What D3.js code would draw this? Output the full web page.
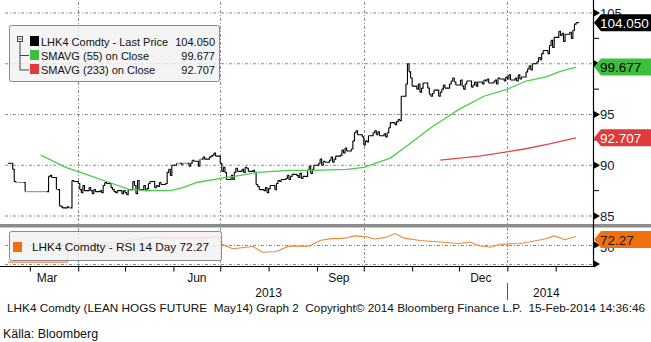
<!DOCTYPE html>
<html><head><meta charset="utf-8">
<script src="https://cdn.jsdelivr.net/npm/d3@7"></script>
<style>
body{margin:0;background:#fff}
svg{display:block}
text{font-family:"Liberation Sans",Arial,sans-serif;white-space:pre}
</style></head>
<body><svg id="c" width="651" height="342"></svg>
<script>
// ---------------- DATA ----------------
const startDate = "2013-02-15", endDate = "2014-02-14";
// daily closes (trading days Feb 15 2013 .. Feb 14 2014)
const closes = [
 90.2,
 89.6,88.4,88.3,88.3,88.3,
 88.3,87.4,87.4,87.4,87.4,
 87.4,87.4,87.4,87.4,87.4,
 87.4,87.4,88.9,89.0,88.8,
 87.6,87.6,86.0,85.9,85.8,
 85.9,85.8,85.8,88.5,88.4,
 88.2,87.6,87.3,88.0,87.5,
 87.8,87.5,87.2,87.6,87.4,
 87.5,87.3,88.0,88.3,88.2,
 87.8,87.6,87.4,87.3,87.5,
 87.2,87.5,87.3,87.1,87.6,
 88.4,88.0,87.2,88.5,87.6,
 88.0,87.5,87.7,88.2,88.4,
 87.8,88.0,87.9,88.3,88.1,
 88.2,89.3,89.6,89.0,90.0,
 90.2,90.2,90.2,90.1,90.2,
 90.2,89.9,90.2,90.5,90.4,
 89.9,90.6,90.6,90.8,90.6,
 90.8,90.9,91.0,91.2,90.9,
 90.2,89.4,89.8,89.3,88.6,
 89.0,88.6,89.3,89.7,89.4,
 89.6,89.3,89.8,89.7,89.4,
 89.5,89.3,88.1,87.9,87.6,
 87.5,87.8,87.3,87.7,88.0,
 87.6,88.2,88.5,88.4,88.6,
 88.7,89.0,88.6,88.9,89.1,
 89.0,88.8,89.2,88.7,88.9,
 89.5,89.9,89.2,89.6,90.0,
 90.2,90.6,90.0,90.4,90.3,
 90.5,90.8,90.3,90.6,90.9,
 91.0,91.5,91.2,91.7,91.4,
 91.6,92.4,93.2,93.4,93.0,
 92.8,92.0,92.4,92.3,92.9,
 93.2,93.4,93.0,93.3,92.9,
 93.1,92.8,93.2,93.7,94.2,
 94.0,94.3,94.5,94.4,96.8,
 98.0,100.0,99.2,98.6,97.8,
 97.5,98.0,97.2,97.6,98.1,
 97.6,97.0,96.8,97.1,97.4,
 96.8,97.2,97.5,97.9,97.6,
 98.0,98.3,98.6,98.2,97.9,
 98.4,97.8,97.5,98.0,98.3,
 97.7,97.9,98.2,97.8,98.2,
 98.0,98.4,98.3,98.5,98.1,
 98.2,98.4,98.0,98.6,98.5,
 98.3,98.7,98.5,98.9,98.4,
 98.6,98.3,98.9,98.5,98.7,
 99.2,99.5,99.8,99.4,100.0,
 100.2,100.6,100.4,101.0,101.3,
 101.0,101.8,102.3,101.6,102.6,
 103.2,102.8,103.0,102.2,102.9,
 103.1,102.5,103.3,103.9,104.05
];
const sma55Dates = ["2013-03-08","2013-03-24","2013-04-08","2013-04-21","2013-05-04","2013-05-17","2013-05-30","2013-06-07","2013-06-16","2013-07-01","2013-07-14","2013-07-25","2013-08-14","2013-08-29","2013-09-20","2013-10-01","2013-10-18","2013-10-26","2013-11-01","2013-11-12","2013-11-22","2013-12-01","2013-12-17","2014-01-01","2014-01-13","2014-01-26","2014-02-03","2014-02-14"];
const sma55Values = [91.0,89.8,89.0,88.3,87.6,87.5,87.5,87.8,88.3,88.7,89.0,89.3,89.5,89.5,89.6,89.8,90.7,91.6,92.3,93.6,94.6,95.5,96.8,97.5,98.3,98.7,99.2,99.677];
const sma233Dates = ["2013-11-19","2013-12-14","2014-01-12","2014-01-28","2014-02-14"];
const sma233Values = [90.5,90.9,91.6,92.1,92.707];
const rsiDates = ["2013-02-15","2013-03-25","2013-03-26","2013-04-15","2013-05-04","2013-05-17","2013-05-30","2013-06-18","2013-06-29","2013-07-02","2013-07-09","2013-07-22","2013-07-28","2013-08-06","2013-08-14","2013-08-27","2013-09-03","2013-09-09","2013-09-19","2013-09-25","2013-10-02","2013-10-08","2013-10-15","2013-10-21","2013-10-27","2013-11-06","2013-11-19","2013-12-01","2013-12-08","2013-12-14","2013-12-21","2013-12-27","2014-01-09","2014-01-15","2014-01-25","2014-01-31","2014-02-07","2014-02-14"];
const rsiValues = [5,5,55,52,62,70,68,68,72,52,40,46,31,33,47,47,62,66,68,74,72,66,70,80,68,62,58,54,58,48,44,52,54,58,66,74,64,72.27];
const priceTicks = [85,90,95,100,105];
const priceLabels = [85,90,95,105];   // "100" is hidden under the SMA tag in the reference
const priceMinor = [87.5,92.5,97.5,102.5];
const monthLabels = [["Mar","2013-03-12"],["Jun","2013-06-16"],["Sep","2013-09-15"],["Dec","2013-12-15"]];
const yearLabels = [["2013","2013-08-01"],["2014","2014-01-26"]];
const legendNames = ["LHK4 Comdty - Last Price","SMAVG (55) on Close","SMAVG (233) on Close"];
const legendValues = ["104.050","99.677","92.707"];
const legendColors = ["#000000","#3cbf3c","#e03a3a"];
const rsiLabel = "LHK4 Comdty - RSI 14 Day 72.27";
const footer = "LHK4 Comdty (LEAN HOGS FUTURE  May14) Graph 2  Copyright\u00a9 2014 Bloomberg Finance L.P.  15-Feb-2014 14:36:46";
const source = "K\u00e4lla: Bloomberg";

// ---------------- SETUP ----------------
const svg = d3.select("#c");
const parse = d3.utcParse("%Y-%m-%d");
const dates = d3.utcDay.range(parse(startDate), d3.utcDay.offset(parse(endDate),1))
  .filter(d => d.getUTCDay() !== 0 && d.getUTCDay() !== 6);
const xAxisR = 593;
const x = d3.scaleUtc().domain([parse(startDate), parse(endDate)]).range([8, 576]);
const y = d3.scaleLinear().domain([85,105]).range([216,13]);
const yR = d3.scaleLinear().domain([0,100]).range([264,226]);

const grid = "#8a8a8a";
const dash = "3,2,1,2";

svg.append("g").selectAll("line").data(priceTicks).join("line")
  .attr("x1",5).attr("x2",xAxisR).attr("y1",d=>y(d)).attr("y2",d=>y(d))
  .attr("stroke",grid).attr("stroke-dasharray",dash).attr("stroke-width",1);
svg.append("g").selectAll("line").data([50,1]).join("line")
  .attr("x1",5).attr("x2",xAxisR).attr("y1",d=>Math.round(yR(d))+0.5).attr("y2",d=>Math.round(yR(d))+0.5)
  .attr("stroke",grid).attr("stroke-dasharray",dash);
const quarters = ["2013-04-01","2013-07-01","2013-10-01","2014-01-01"].map(parse);
svg.append("g").selectAll("line").data(quarters).join("line")
  .attr("x1",d=>Math.round(x(d))+0.5).attr("x2",d=>Math.round(x(d))+0.5).attr("y1",2).attr("y2",224)
  .attr("stroke",grid).attr("stroke-dasharray",dash);
svg.append("g").selectAll("line").data(quarters).join("line")
  .attr("x1",d=>Math.round(x(d))+0.5).attr("x2",d=>Math.round(x(d))+0.5).attr("y1",228).attr("y2",266)
  .attr("stroke",grid).attr("stroke-dasharray",dash);

// price steps
const pg = svg.append("g").attr("fill","none").attr("stroke-width",1.1);
for (let i=1;i<closes.length;i++){
  const x0 = x(dates[i-1]), x1 = x(dates[i]);
  pg.append("path")
    .attr("d",`M${x0},${y(closes[i-1])}H${x1}V${y(closes[i])}`)
    .attr("stroke", closes[i]===closes[i-1] ? "#8c8c8c" : "#000");
}
pg.append("path").attr("d",`M${x(dates[dates.length-1])},${y(closes[closes.length-1])}h3`).attr("stroke","#000");

// SMA lines
const line = d3.line().x(d=>x(d[0])).y(d=>y(d[1]));
svg.append("path").datum(sma55Dates.map((d,i)=>[parse(d),sma55Values[i]]))
  .attr("d",line).attr("fill","none").attr("stroke","#4ccb4c").attr("stroke-width",1.3);
svg.append("path").datum(sma233Dates.map((d,i)=>[parse(d),sma233Values[i]]))
  .attr("d",line).attr("fill","none").attr("stroke","#e04848").attr("stroke-width",1.3);

// RSI line
const rline = d3.line().x(d=>x(d[0])).y(d=>yR(d[1]));
svg.append("path").datum(rsiDates.map((d,i)=>[parse(d),rsiValues[i]]))
  .attr("d",rline).attr("fill","none").attr("stroke","#f08838").attr("stroke-width",1.1);

// separator
svg.append("rect").attr("x",0).attr("y",224).attr("width",651).attr("height",3.5).attr("fill","#8c8c8c");

// right axis line
svg.append("line").attr("x1",xAxisR+0.5).attr("x2",xAxisR+0.5).attr("y1",0).attr("y2",267).attr("stroke","#000").attr("stroke-width",1.2);
// bottom axis
const xAxis = d3.axisBottom(x).ticks(d3.utcMonth.every(1)).tickFormat("").tickSize(5).tickSizeOuter(0);
const gx = svg.append("g").attr("transform","translate(0,266.5)").call(xAxis);
gx.select(".domain").attr("d",`M0,0H${xAxisR+1}`).attr("stroke","#000");
gx.selectAll(".tick line").attr("stroke","#000");

// right axis tick arrows & labels
const arrow = yy => `M${xAxisR+1},${yy-3.5}L${xAxisR+7},${yy}L${xAxisR+1},${yy+3.5}Z`;
svg.append("g").selectAll("path").data(priceTicks).join("path").attr("d",d=>arrow(y(d))).attr("fill","#000");
svg.append("g").selectAll("line").data(priceMinor).join("line")
  .attr("x1",xAxisR+1).attr("x2",xAxisR+6).attr("y1",d=>y(d)).attr("y2",d=>y(d)).attr("stroke","#000");
svg.append("g").selectAll("text").data(priceLabels).join("text")
  .attr("x",xAxisR+7).attr("y",d=>y(d)+4.5).attr("font-size",13).attr("fill","#101830").text(d=>d);
svg.append("g").selectAll("path").data([50,1]).join("path").attr("d",d=>arrow(Math.round(yR(d)))).attr("fill","#000");
svg.append("text").attr("x",xAxisR+7).attr("y",yR(50)+7).attr("font-size",13).attr("fill","#101830").text("50");

// value tags
function tag(v, yy, fill, tc){
  const g = svg.append("g");
  g.append("path").attr("d",`M${xAxisR+1},${yy}L${xAxisR+8},${yy-8.5}H651V${yy+8.5}H${xAxisR+8}Z`).attr("fill",fill);
  g.append("text").attr("x",xAxisR+7).attr("y",yy+5).attr("font-size",13.5).attr("fill",tc).text(v);
}
tag(legendValues[0], y(closes[closes.length-1]), "#000", "#fff");
tag(legendValues[1], y(sma55Values[sma55Values.length-1]), "#3cbf3c", "#000");
tag(legendValues[2], y(sma233Values[sma233Values.length-1]), "#e03a3a", "#fff");
tag("72.27", yR(rsiValues[rsiValues.length-1])+3, "#f07010", "#1a1a1a");

// legend main
const lg = svg.append("g");
lg.append("rect").attr("x",9.5).attr("y",25.5).attr("width",210).attr("height",56).attr("rx",2)
  .attr("fill","#f2f2f2").attr("fill-opacity",0.82).attr("stroke","#8a8a8a");
lg.append("rect").attr("x",17.5).attr("y",36.5).attr("width",5).attr("height",5).attr("fill","none").attr("stroke","#444");
lg.append("line").attr("x1",18.5).attr("x2",21.5).attr("y1",39).attr("y2",39).attr("stroke","#444");
lg.append("path").attr("d","M20,41.5V70H29M20,55.5H29").attr("fill","none").attr("stroke","#444");
legendNames.forEach((n,i)=>{
  const yy = 41 + i*14;
  lg.append("rect").attr("x",30).attr("y",yy-5).attr("width",9).attr("height",10).attr("fill",legendColors[i]);
  lg.append("text").attr("x",41).attr("y",yy+4.5).attr("font-size",11).attr("fill","#111").text(n);
  lg.append("text").attr("x",215).attr("y",yy+4.5).attr("font-size",11).attr("fill","#111").attr("text-anchor","end").text(legendValues[i]);
});
// legend RSI
const lr = svg.append("g");
lr.append("rect").attr("x",9.5).attr("y",231.5).attr("width",212).attr("height",29).attr("rx",2)
  .attr("fill","#f2f2f2").attr("fill-opacity",0.82).attr("stroke","#8a8a8a");
lr.append("rect").attr("x",13).attr("y",242).attr("width",9).attr("height",10).attr("fill","#f07010");
lr.append("text").attr("x",32).attr("y",251).attr("font-size",11.8).attr("fill","#111").text(rsiLabel);

// month & year labels
svg.append("g").selectAll("text").data(monthLabels).join("text")
  .attr("x",d=>x(parse(d[1]))).attr("y",282).attr("text-anchor","middle").attr("font-size",12).attr("fill","#111").text(d=>d[0]);
svg.append("g").selectAll("text").data(yearLabels).join("text")
  .attr("x",d=>x(parse(d[1]))).attr("y",297).attr("text-anchor","middle").attr("font-size",12).attr("fill","#111").text(d=>d[0]);
svg.append("line").attr("x1",Math.round(x(parse("2014-01-01")))+0.5).attr("x2",Math.round(x(parse("2014-01-01")))+0.5)
  .attr("y1",283).attr("y2",300).attr("stroke","#555");

// footer
svg.append("text").attr("x",7).attr("y",312).attr("font-size",11.5).attr("fill","#111")
  .attr("textLength",638).attr("lengthAdjust","spacingAndGlyphs").text(footer);
svg.append("text").attr("x",3).attr("y",338).attr("font-size",12.5).attr("fill","#111").text(source);
</script></body></html>
